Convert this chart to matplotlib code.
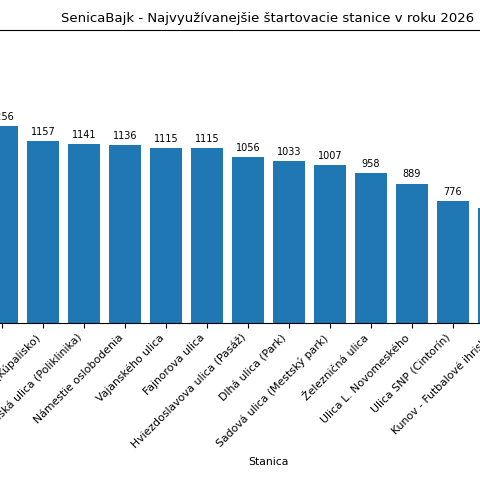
import matplotlib
matplotlib.use("Agg")
from matplotlib import pyplot as plt

# viditeľná časť grafu (orezaný výrez)
stanice = ["", "Ulica (Kúpalisko)", "Továrenská ulica (Poliklinika)", "Námestie oslobodenia",
           "Vajanského ulica", "Fajnorova ulica", "Hviezdoslavova ulica (Pasáž)", "Dlhá ulica (Park)",
           "Sadová ulica (Mestský park)", "Železničná ulica", "Ulica L. Novomeského",
           "Ulica SNP (Cintorín)", "Kunov - Futbalové ihrisko"]
pocty = [1256, 1157, 1141, 1136, 1115, 1115, 1056, 1033, 1007, 958, 889, 776, 732]

fig = plt.figure(figsize=(4.8, 4.8), dpi=100)
ax = fig.add_axes([-0.1, 0.327, 1.2, 0.610])

x = range(len(stanice))
bars = ax.bar(x, pocty, width=0.8, color="#1f77b4")
ax.bar_label(bars, padding=3, fontsize=7)
ax.set_xticks(list(x))
ax.set_xticklabels(stanice, rotation=45, ha="right", fontsize=7.8)
ax.set_xlim(-50 / 41, -50 / 41 + 576 / 41)
ax.set_ylim(0, 1866)

fig.text(268 / 480, 1 - 22 / 480, "SenicaBajk - Najvyužívanejšie štartovacie stanice v roku 2026",
         ha="center", va="baseline", fontsize=9.5)
fig.text(268 / 480, 1 - 462 / 480, "Stanica", ha="center", va="center", fontsize=7.8)

fig.savefig("out.png", dpi=100)
